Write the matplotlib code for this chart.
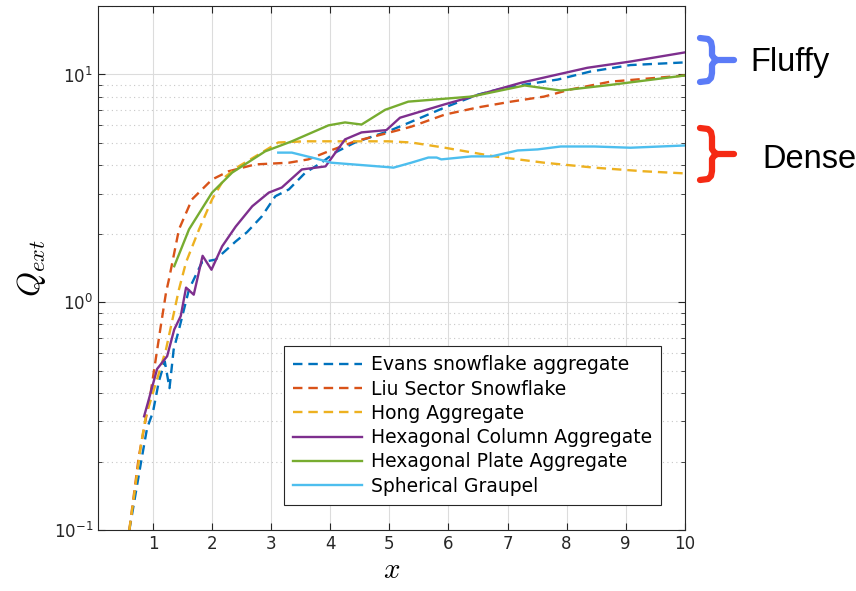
import numpy as np
import matplotlib
matplotlib.use('Agg')
import matplotlib.pyplot as plt
from matplotlib.lines import Line2D

plt.rcParams['mathtext.fontset'] = 'cm'

# data
evans_x = [0.6, 0.8, 0.9, 1.0, 1.1, 1.2, 1.28, 1.35, 1.44, 1.61, 1.83, 2.06, 2.4, 2.59, 2.84, 3.07, 3.3, 3.58, 3.85, 4.08, 4.42, 4.81, 4.98, 5.37, 5.94, 6.5, 7.0, 7.85, 8.4, 9.08, 10.0]
evans_y = [0.1, 0.2, 0.28, 0.33, 0.45, 0.55, 0.42, 0.62, 0.76, 1.14, 1.5, 1.54, 1.85, 2.03, 2.38, 2.92, 3.13, 3.71, 4.1, 4.54, 5.03, 5.45, 5.63, 6.2, 7.17, 8.16, 8.8, 9.5, 10.3, 11.0, 11.3]

liu_x = [0.6, 0.76, 0.96, 1.13, 1.22, 1.27, 1.44, 1.66, 2.0, 2.28, 2.73, 3.3, 3.63, 3.97, 4.42, 4.93, 5.37, 5.94, 6.5, 7.06, 7.62, 8.07, 8.74, 10.0]
liu_y = [0.1, 0.21, 0.40, 0.78, 1.1, 1.26, 2.09, 2.83, 3.46, 3.76, 4.03, 4.1, 4.24, 4.6, 5.09, 5.5, 5.9, 6.67, 7.17, 7.6, 8.0, 8.6, 9.3, 9.9]

hong_x = [0.6, 0.8, 0.88, 1.22, 1.44, 1.56, 1.78, 2.0, 2.23, 2.45, 2.84, 3.12, 3.58, 4.42, 4.98, 5.37, 5.94, 6.78, 7.62, 8.47, 9.3, 10.0]
hong_y = [0.1, 0.24, 0.316, 0.62, 1.14, 1.5, 2.09, 2.83, 3.57, 3.95, 4.54, 5.03, 5.09, 5.09, 5.09, 5.03, 4.77, 4.37, 4.1, 3.9, 3.76, 3.68]

hexcol_x = [0.85, 0.93, 1.07, 1.24, 1.36, 1.47, 1.56, 1.69, 1.84, 1.99, 2.17, 2.4, 2.68, 2.96, 3.18, 3.52, 3.92, 4.25, 4.53, 4.95, 5.18, 5.94, 7.23, 8.35, 9.08, 10.0]
hexcol_y = [0.316, 0.375, 0.51, 0.58, 0.76, 0.87, 1.16, 1.08, 1.6, 1.39, 1.76, 2.15, 2.64, 3.03, 3.19, 3.83, 3.95, 5.19, 5.57, 5.7, 6.46, 7.4, 9.2, 10.7, 11.4, 12.5]

hexplate_x = [1.36, 1.61, 2.0, 2.34, 2.9, 3.35, 3.97, 4.25, 4.53, 4.93, 5.32, 6.39, 7.29, 7.9, 8.74, 10.0]
hexplate_y = [1.44, 2.09, 3.03, 3.71, 4.6, 5.09, 5.98, 6.16, 6.03, 7.0, 7.6, 8.0, 8.95, 8.5, 9.0, 9.9]

graupel_x = [3.12, 3.35, 3.75, 4.02, 4.98, 5.07, 5.37, 5.66, 5.8, 5.88, 6.39, 6.73, 7.17, 7.51, 7.9, 8.47, 9.08, 10.0]
graupel_y = [4.54, 4.54, 4.28, 4.1, 3.92, 3.9, 4.1, 4.32, 4.32, 4.24, 4.37, 4.37, 4.64, 4.69, 4.83, 4.83, 4.77, 4.88]

labels = ['Evans snowflake aggregate', 'Liu Sector Snowflake', 'Hong Aggregate',
          'Hexagonal Column Aggregate', 'Hexagonal Plate Aggregate', 'Spherical Graupel']
colors = ['#0072BD', '#D95319', '#EDB120', '#7E2F8E', '#77AC30', '#4DBEEE']

fig = plt.figure(figsize=(8.56, 5.91), dpi=100)
ax = fig.add_axes([0.1145, 0.103, 0.6855, 0.887])

dash = (0, (4, 2.5))
lw = 1.7
ax.plot(evans_x, evans_y, color=colors[0], ls=dash, lw=lw, label=labels[0])
ax.plot(liu_x, liu_y, color=colors[1], ls=dash, lw=lw, label=labels[1])
ax.plot(hong_x, hong_y, color=colors[2], ls=dash, lw=lw, label=labels[2])
ax.plot(hexcol_x, hexcol_y, color=colors[3], ls='-', lw=lw, label=labels[3])
ax.plot(hexplate_x, hexplate_y, color=colors[4], ls='-', lw=lw, label=labels[4])
ax.plot(graupel_x, graupel_y, color=colors[5], ls='-', lw=lw, label=labels[5])

ax.set_yscale('log')
ax.set_xlim(0.07, 10)
ax.set_ylim(0.1, 20)
ax.set_xticks(range(1, 11))
ax.grid(True, which='major', color='#dcdcdc', lw=0.8)
ax.grid(True, which='minor', axis='y', color='#c8c8c8', ls=(0, (1, 3)), lw=0.8)
ax.tick_params(which='both', direction='in', top=True, right=True, labelsize=12,
               colors='#262626', labelcolor='#262626')
ax.tick_params(which='major', length=5)
ax.tick_params(which='minor', length=3)
for s in ax.spines.values():
    s.set_color('#262626')
    s.set_linewidth(0.8)

ax.set_xlabel(r'$x$', fontsize=21, labelpad=2)
ax.set_ylabel(r'$Q_{ext}$', fontsize=23, labelpad=4)

leg = ax.legend(loc='lower right', bbox_to_anchor=(0.96, 0.048), borderaxespad=0,
                fontsize=13.5, handlelength=3.7, handletextpad=0.45, labelspacing=0.28,
                fancybox=False, edgecolor='#262626', framealpha=1, borderpad=0.5)
leg.get_frame().set_linewidth(0.8)

# braces and labels outside the axes (pixel coords, origin top-left)
def brace(y0, y1, x0, color):
    W, H = 856, 591
    ym = (y0 + y1) / 2
    xs = [x0, x0 + 8, x0 + 11, x0 + 12, x0 + 12, x0 + 14, x0 + 17, x0 + 34]
    ys = [y0, y0 + 1, y0 + 4, y0 + 9, ym - 5, ym - 2, ym, ym]
    xs2 = [x0 + 17, x0 + 14, x0 + 12, x0 + 12, x0 + 11, x0 + 8, x0]
    ys2 = [ym, ym + 2, ym + 5, y1 - 9, y1 - 4, y1 - 1, y1]
    for xx, yy in [(xs, ys), (xs2, ys2)]:
        fig.add_artist(Line2D(np.array(xx) / W, 1 - np.array(yy) / H, color=color,
                              lw=4.5, solid_capstyle='round', solid_joinstyle='round'))

brace(38, 82, 700, '#5B7BF7')
brace(128, 180, 700, '#F52A14')
fig.text(750 / 856, 1 - 62 / 591, 'Fluffy', fontsize=23.5, family='Liberation Sans',
         va='center', ha='left')
fig.text(762 / 856, 1 - 160 / 591, 'Dense', fontsize=23.5, family='Liberation Sans',
         va='center', ha='left')

fig.savefig('out.png', dpi=100)
